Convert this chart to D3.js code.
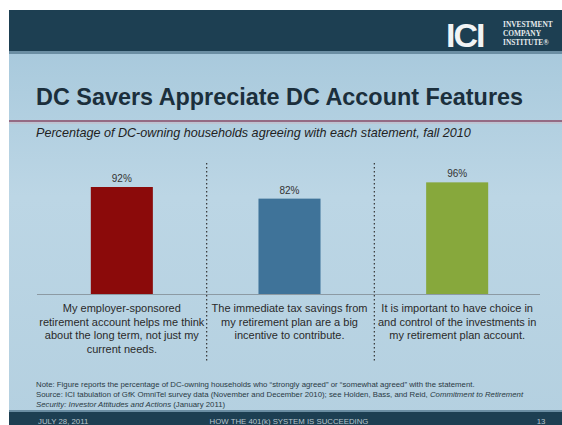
<!DOCTYPE html>
<html>
<head>
<meta charset="utf-8">
<script src="https://cdn.jsdelivr.net/npm/d3@7"></script>
<style>
  body { margin: 0; background: #fff; }
  svg { display: block; font-family: "Liberation Sans", Arial, sans-serif; }
</style>
</head>
<body>
<script>
var width = 562,
    height = 425;

// chart data
var statements = ["employer", "tax", "choice"];
var agreePct = [92, 82, 96];
var barColors = ["#8b0a0a", "#3f7399", "#87a83c"];
var statementLines = [
    ["My employer-sponsored", "retirement account helps me think", "about the long term, not just my", "current needs."],
    ["The immediate tax savings from", "my retirement plan are a big", "incentive to contribute."],
    ["It is important to have choice in", "and control of the investments in", "my retirement plan account."]
];
var noteLines = [
    "Note: Figure reports the percentage of DC-owning households who \u201cstrongly agreed\u201d or \u201csomewhat agreed\u201d with the statement.",
    "Source: ICI tabulation of GfK OmniTel survey data (November and December 2010); see Holden, Bass, and Reid, ",
    "Security: Investor Attitudes and Actions (January 2011)"
];

var svg = d3.select("body").append("svg")
    .attr("width", width)
    .attr("height", height);

var defs = svg.append("defs");
var bg = defs.append("linearGradient").attr("id", "bg")
    .attr("x1", 0).attr("y1", 0).attr("x2", 0).attr("y2", 1);
bg.append("stop").attr("offset", "0%").attr("stop-color", "#a3c6da");
bg.append("stop").attr("offset", "45%").attr("stop-color", "#bcd6e5");
bg.append("stop").attr("offset", "100%").attr("stop-color", "#b4d0e0");

// slide background
svg.append("rect").attr("x", 9).attr("y", 10).attr("width", width - 9).attr("height", height - 10)
    .attr("fill", "url(#bg)");

// header band
svg.append("rect").attr("x", 9).attr("y", 10).attr("width", width - 9).attr("height", 41)
    .attr("fill", "#1d3f52");
svg.append("rect").attr("x", 9).attr("y", 51).attr("width", width - 9).attr("height", 3)
    .attr("fill", "#6b8ea3");

// logo
svg.append("text").attr("x", 446).attr("y", 47)
    .attr("fill", "#f2f4f5").attr("font-size", 34).attr("font-weight", "bold")
    .attr("letter-spacing", -2)
    .text("ICI");
["INVESTMENT", "COMPANY", "INSTITUTE\u00ae"].forEach(function(t, i) {
    svg.append("text").attr("x", 503).attr("y", 27 + i * 9)
        .attr("fill", "#e8ecee").attr("font-size", 7.4)
        .attr("font-family", "'Liberation Serif', serif").attr("font-weight", "bold")
        .text(t);
});

// title
svg.append("text").attr("x", 36).attr("y", 105)
    .attr("fill", "#1b2f3c").attr("font-size", 23.4).attr("font-weight", "bold")
    .text("DC Savers Appreciate DC Account Features");

svg.append("line").attr("x1", 9).attr("x2", width).attr("y1", 121).attr("y2", 121)
    .attr("stroke", "#8a4a66").attr("stroke-width", 1.5);
svg.append("line").attr("x1", 9).attr("x2", width).attr("y1", 123).attr("y2", 123)
    .attr("stroke", "#c9b7c4").attr("stroke-width", 1);

svg.append("text").attr("x", 36).attr("y", 137)
    .attr("fill", "#222").attr("font-size", 12.6).attr("font-style", "italic")
    .text("Percentage of DC-owning households agreeing with each statement, fall 2010");

// scales
var x = d3.scaleBand()
    .domain(statements)
    .range([38, 541])
    .paddingInner(0.63)
    .paddingOuter(0.315);

var y = d3.scaleLinear()
    .domain([0, 100])
    .range([294, 177.7]);

var step = x.step();

// dotted separators
[1, 2].forEach(function(i) {
    var sx = x(statements[i]) - x.paddingInner() * step / 2 + 1;
    svg.append("line").attr("x1", sx).attr("x2", sx).attr("y1", 163).attr("y2", 362)
        .attr("stroke", "#333").attr("stroke-width", 1.2)
        .attr("stroke-dasharray", "1.5,2.5");
});

// bars
svg.selectAll(".bar")
    .data(statements)
    .enter().append("rect")
    .attr("class", "bar")
    .attr("x", function(d) { return x(d); })
    .attr("width", x.bandwidth())
    .attr("y", function(d, i) { return y(agreePct[i]); })
    .attr("height", function(d, i) { return y(0) - y(agreePct[i]); })
    .attr("fill", function(d, i) { return barColors[i]; });

svg.selectAll(".val")
    .data(statements)
    .enter().append("text")
    .attr("class", "val")
    .attr("x", function(d) { return x(d) + x.bandwidth() / 2; })
    .attr("y", function(d, i) { return y(agreePct[i]) - 5; })
    .attr("text-anchor", "middle")
    .attr("fill", "#333").attr("font-size", 10)
    .text(function(d, i) { return agreePct[i] + "%"; });

// baseline
svg.append("line").attr("x1", 37).attr("x2", 540).attr("y1", 294.5).attr("y2", 294.5)
    .attr("stroke", "#8c9aa3").attr("stroke-width", 1.2);

// statement labels
statements.forEach(function(d, i) {
    var cx = x(d) + x.bandwidth() / 2;
    var t = svg.append("text").attr("text-anchor", "middle")
        .attr("fill", "#2a2a2a").attr("font-size", 11);
    statementLines[i].forEach(function(line, j) {
        t.append("tspan").attr("x", cx).attr("y", 312 + j * 13.5).text(line);
    });
});

// notes
noteLines.forEach(function(line, j) {
    var t = svg.append("text").attr("x", 36).attr("y", 387 + j * 10)
        .attr("fill", "#2a3a44").attr("font-size", 7.8);
    if (j === 1) {
        t.append("tspan").text(line);
        t.append("tspan").attr("font-style", "italic").text("Commitment to Retirement");
    } else if (j === 2) {
        t.append("tspan").attr("font-style", "italic").text("Security: Investor Attitudes and Actions");
        t.append("tspan").text(" (January 2011)");
    } else {
        t.text(line);
    }
});

// footer
svg.append("rect").attr("x", 9).attr("y", 411).attr("width", width - 9).attr("height", 14)
    .attr("fill", "#1d3f52");
svg.append("rect").attr("x", 9).attr("y", 410).attr("width", width - 9).attr("height", 2)
    .attr("fill", "#6b8ea3");
svg.append("text").attr("x", 38).attr("y", 424).attr("fill", "#b8c6ce").attr("font-size", 7.8)
    .text("JULY 28, 2011");
svg.append("text").attr("x", 289).attr("y", 424).attr("text-anchor", "middle")
    .attr("fill", "#b8c6ce").attr("font-size", 7.8)
    .text("HOW THE 401(k) SYSTEM IS SUCCEEDING");
svg.append("text").attr("x", 541).attr("y", 424).attr("text-anchor", "middle")
    .attr("fill", "#b8c6ce").attr("font-size", 7.8)
    .text("13");
</script>
</body>
</html>
